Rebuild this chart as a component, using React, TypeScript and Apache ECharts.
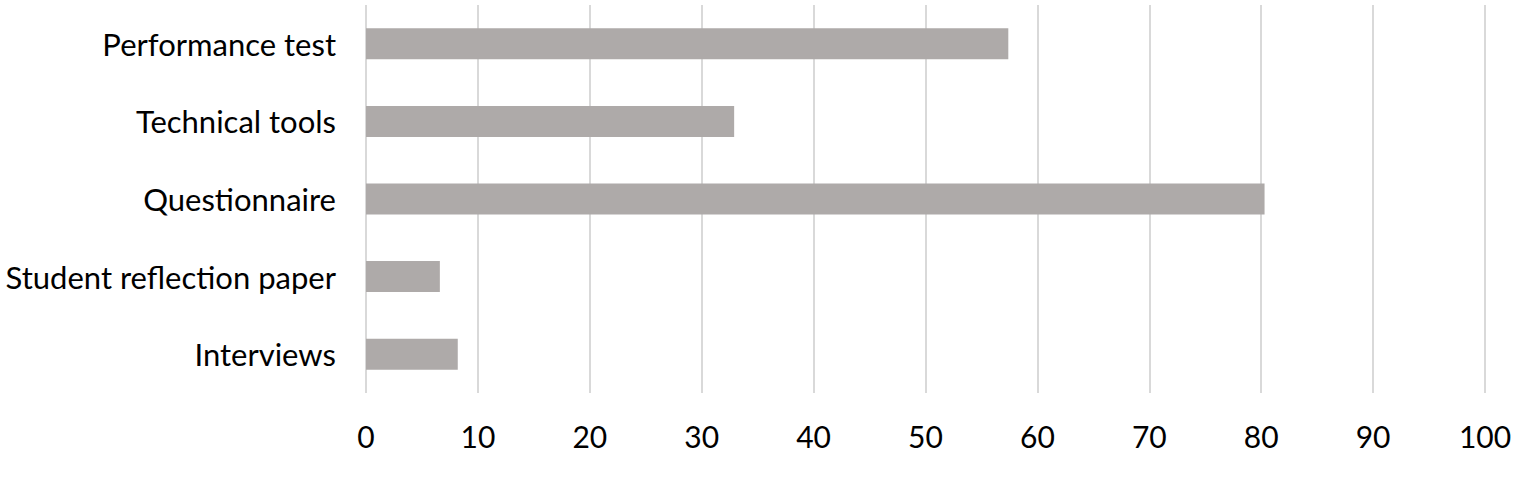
import React, { useEffect, useRef } from "react";
import * as echarts from "echarts";

const categories = ["Interviews", "Student reflection paper", "Questionnaire", "Technical tools", "Performance test"];
const values = [8.2, 6.6, 80.3, 32.9, 57.4];
const xTicks = { min: 0, max: 100, interval: 10 };

export default function App() {
  const ref = useRef<HTMLDivElement>(null);
  useEffect(() => {
    const chart = echarts.init(ref.current!, null, { renderer: "svg" });
    chart.setOption({
      animation: false,
      grid: { left: 366, right: 39, top: 5, bottom: 89, containLabel: false },
      xAxis: {
        type: "value",
        min: xTicks.min,
        max: xTicks.max,
        interval: xTicks.interval,
        axisLine: { show: false },
        axisTick: { show: false },
        splitLine: { show: true, lineStyle: { color: "#d9d9d9", width: 2 } },
        axisLabel: { color: "#000", fontFamily: "Lato", fontSize: 30, margin: 28 },
      },
      yAxis: {
        type: "category",
        data: categories,
        axisLine: { show: false },
        axisTick: { show: false },
        axisLabel: { color: "#000", fontFamily: "Lato", fontSize: 31, margin: 30 },
      },
      series: [
        {
          type: "bar",
          data: values,
          barWidth: 31,
          itemStyle: { color: "#aeaaa9" },
        },
      ],
    });
    return () => chart.dispose();
  }, []);
  return <div ref={ref} style={{ width: 1524, height: 482, position: "absolute", left: 0, top: 0 }} />;
}
